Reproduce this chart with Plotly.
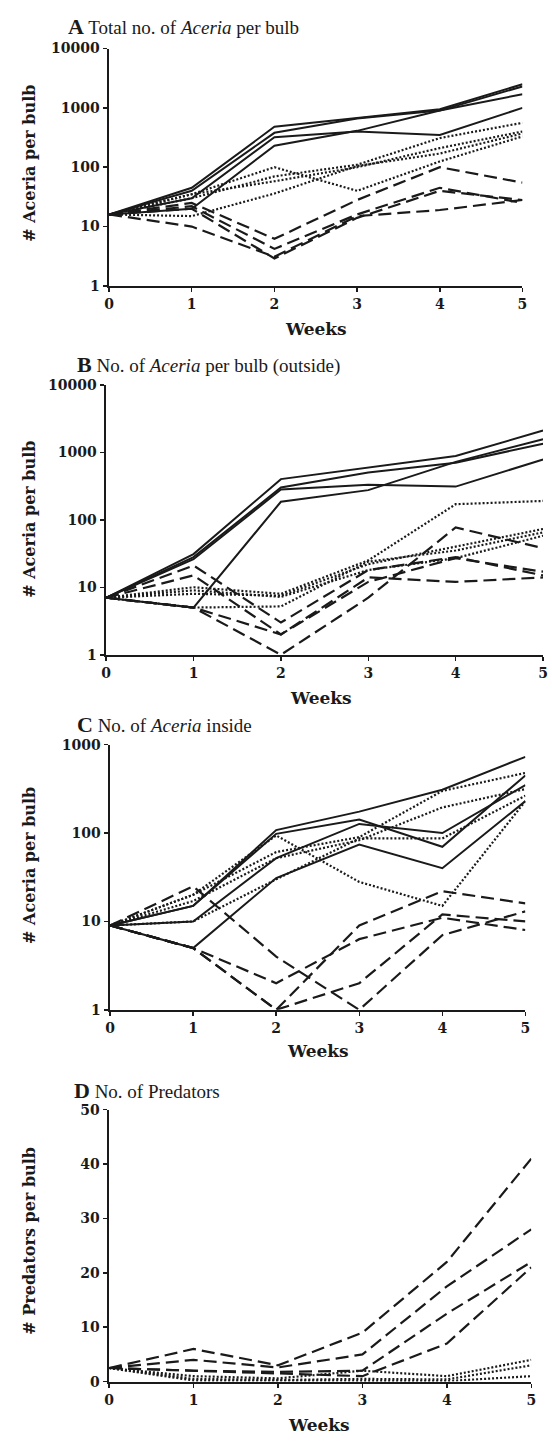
import plotly.graph_objects as go

weeks = [0, 1, 2, 3, 4, 5]

# Panel A: total no. of Aceria per bulb
A_solid = [[16, 45, 480, 680, 950, 2500],
           [16, 40, 380, 660, 900, 2300],
           [16, 30, 320, 400, 350, 1000],
           [16, 20, 230, 410, 900, 1700]]
A_dotted = [[16, 35, 100, 40, 125, 330],
            [16, 30, 70, 110, 310, 560],
            [16, 35, 58, 100, 210, 400],
            [16, 15, 36, 105, 170, 370]]
A_dashed = [[16, 25, 6.2, 28, 100, 55],
            [16, 22, 4.2, 16, 45, 25],
            [16, 20, 2.9, 14, 40, 28],
            [16, 10, 3.1, 15, 19, 28]]

# Panel B: outside
B_solid = [[7, 31, 400, 600, 880, 2100],
           [7, 28, 300, 500, 700, 1340],
           [7, 26, 280, 330, 310, 780],
           [7, 5, 185, 275, 720, 1560]]
B_dotted = [[7, 10, 8, 25, 170, 190],
            [7, 8, 7.5, 22, 40, 73],
            [7, 5, 5.2, 24, 35, 65],
            [7, 9, 7.2, 18, 27, 58]]
B_dashed = [[7, 21, 3, 18, 28, 15],
            [7, 15, 2, 12, 27, 17],
            [7, 5, 2, 14, 12, 14],
            [7, 5, 1, 7, 77, 38]]

# Panel C: inside
C_solid = [[9, 15, 108, 175, 310, 730],
           [9, 15, 98, 142, 70, 450],
           [9, 10, 52, 127, 100, 350],
           [9, 5, 31, 74, 40, 230]]
C_dotted = [[9, 20, 61, 90, 300, 480],
            [9, 17, 52, 83, 195, 315],
            [9, 10, 30, 87, 87, 265],
            [9, 20, 94, 28, 15, 230]]
C_dashed = [[9, 25, 4, 1, 7, 13],
            [9, 5, 2, 6.3, 11, 8],
            [9, 5, 1, 9, 22, 16],
            [9, 5, 1, 2, 12, 10]]

# Panel D: predators
D_dashed = [[2.5, 6, 3, 9, 22, 41],
            [2.5, 4, 2.6, 5, 17.5, 28],
            [2.5, 2, 1.8, 2, 12.5, 22],
            [2.5, 2, 1.4, 1, 7, 21]]
D_dotted = [[2.5, 1, 0.6, 2, 1, 4],
            [2.5, 0.5, 0.3, 0.5, 0.4, 3],
            [2.5, 0.2, 0.2, 0.1, 0.1, 1]]

log_ticks4 = [1, 10, 100, 1000, 10000]
log_ticks3 = [1, 10, 100, 1000]
lin_ticks = [0, 10, 20, 30, 40, 50]

W, H = 552, 1444
INK = "#1a1a1a"
styles = {"solid": dict(dash="solid", width=2),
          "dotted": dict(dash="2px,2px", width=2.2),
          "dashed": dict(dash="13px,6px", width=2.2)}

panels = [
    dict(box=(106, 527, 41, 281), log=True, rng=[0, 4], ticks=log_ticks4,
         series=[("solid", A_solid), ("dotted", A_dotted), ("dashed", A_dashed)],
         letter="A", title="Total no. of <i>Aceria</i> per bulb",
         tpos=(62, 19), ytitle="# Aceria per bulb", ytpos=157, wpos=(317, 325)),
    dict(box=(103, 548, 381, 654), log=True, rng=[0, 4], ticks=log_ticks4,
         series=[("solid", B_solid), ("dotted", B_dotted), ("dashed", B_dashed)],
         letter="B", title="No. of <i>Aceria</i> per bulb (outside)",
         tpos=(71, 360), ytitle="# Aceria per bulb", ytpos=517, wpos=(322, 698)),
    dict(box=(107, 530, 745, 1013), log=True, rng=[0, 3], ticks=log_ticks3,
         series=[("solid", C_solid), ("dotted", C_dotted), ("dashed", C_dashed)],
         letter="C", title="No. of <i>Aceria</i> inside",
         tpos=(71, 725), ytitle="# Aceria per bulb", ytpos=867, wpos=(319, 1055)),
    dict(box=(106, 536, 1114, 1389), log=False, rng=[0, 50], ticks=lin_ticks,
         series=[("dashed", D_dashed), ("dotted", D_dotted)],
         letter="D", title="No. of Predators",
         tpos=(68, 1095), ytitle="# Predators per bulb", ytpos=1247, wpos=(320, 1433)),
]

fig = go.Figure()
tickfont = dict(family="DejaVu Serif", size=14, color=INK, weight="bold")
annotations = []
for i, p in enumerate(panels, start=1):
    xa = "x" if i == 1 else f"x{i}"
    ya = "y" if i == 1 else f"y{i}"
    for style, group in p["series"]:
        for vals in group:
            fig.add_trace(go.Scatter(x=weeks, y=vals, mode="lines", xaxis=xa, yaxis=ya,
                                     line=dict(color=INK, **styles[style]),
                                     hoverinfo="skip", showlegend=False))
    x0, x1, y0, y1 = p["box"]
    suffix = "" if i == 1 else str(i)
    fig.layout["xaxis" + suffix] = dict(
        domain=[x0 / W, x1 / W], anchor=ya, range=[0, 5], tickvals=weeks,
        showline=True, linecolor=INK, linewidth=2.5, ticks="outside", ticklen=4,
        tickwidth=1.5, tickcolor=INK, showgrid=False, zeroline=False, tickfont=tickfont,
        ticklabeloverflow="allow", fixedrange=True)
    yax = dict(domain=[1 - y1 / H, 1 - y0 / H], anchor=xa,
               showline=True, linecolor=INK, linewidth=2.5, ticks="outside", ticklen=4,
               tickwidth=1.5, tickcolor=INK, showgrid=False, zeroline=False,
               tickfont=tickfont, tickvals=p["ticks"], ticktext=[str(t) for t in p["ticks"]],
               ticklabeloverflow="allow", fixedrange=True)
    if p["log"]:
        yax.update(type="log", range=p["rng"])
    else:
        yax.update(range=p["rng"])
    fig.layout["yaxis" + suffix] = yax
    tx, ty = p["tpos"]
    annotations.append(dict(
        text="<b><span style='font-size:22px'>" + p["letter"] + "</span></b> " + p["title"],
        x=tx / W, y=1 - ty / H, xref="paper", yref="paper",
        xanchor="left", yanchor="middle", showarrow=False,
        font=dict(family="Liberation Serif", size=19, color=INK)))
    annotations.append(dict(text="<b>" + p["ytitle"] + "</b>", x=25 / W, y=1 - p["ytpos"] / H,
                            xref="paper", yref="paper", xanchor="center", yanchor="middle",
                            textangle=-90, showarrow=False,
                            font=dict(family="DejaVu Serif", size=16, color=INK)))
    wx, wy = p["wpos"]
    annotations.append(dict(text="<b>Weeks</b>", x=wx / W, y=1 - wy / H, xref="paper", yref="paper",
                            xanchor="center", yanchor="middle", showarrow=False,
                            font=dict(family="DejaVu Serif", size=17, color=INK)))

fig.update_layout(width=W, height=H, margin=dict(l=0, r=0, t=0, b=0),
                  paper_bgcolor="white", plot_bgcolor="white",
                  annotations=annotations, hovermode=False, showlegend=False)
fig.write_html("out.html", config={"displayModeBar": False, "staticPlot": True},
               post_script="document.body.style.margin='0';")
